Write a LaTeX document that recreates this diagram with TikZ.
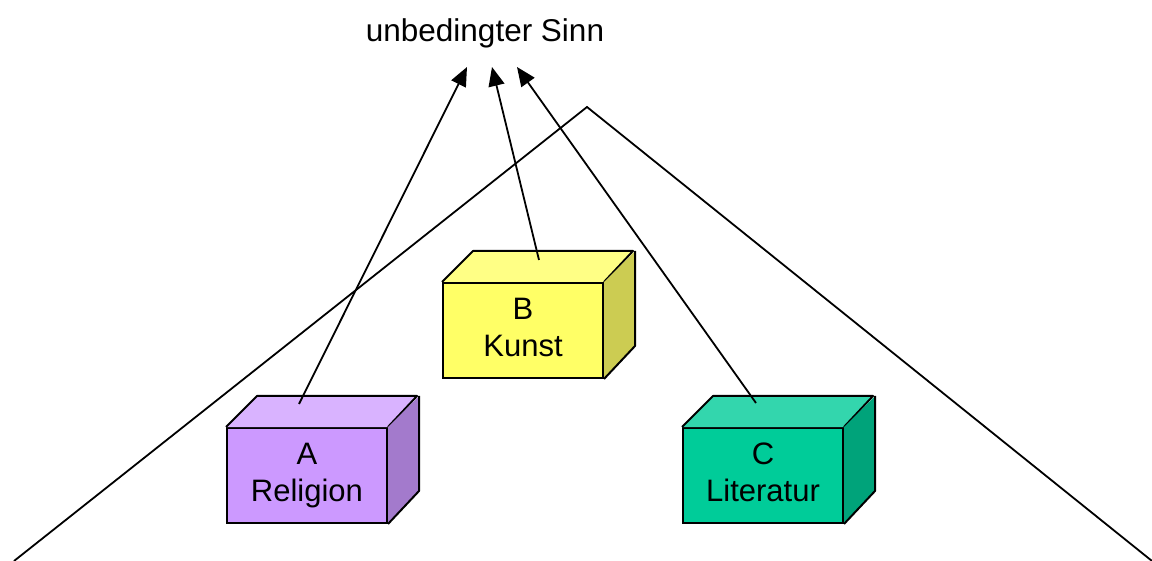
\documentclass[tikz,border=0pt]{standalone}
\usepackage{fontspec}
\setmainfont{Liberation Sans}
\usetikzlibrary{arrows.meta}
\definecolor{aF}{HTML}{CC99FF}\definecolor{aT}{HTML}{D9B3FF}\definecolor{aS}{HTML}{A37ACC}
\definecolor{bF}{HTML}{FFFF66}\definecolor{bT}{HTML}{FFFF85}\definecolor{bS}{HTML}{CCCC52}
\definecolor{cF}{HTML}{00CC99}\definecolor{cT}{HTML}{33D6AD}\definecolor{cS}{HTML}{00A37A}
\tikzset{
  boxfront/.style={draw=black, line width=2pt, minimum width=160pt, minimum height=95pt, inner sep=0pt, align=center, font=\fontsize{31}{37}\selectfont},
  facestyle/.style={draw=black, line width=2pt, line join=round},
  arr/.style={line width=1.8pt, -{Triangle[length=19pt,width=16pt]}},
  edge/.style={line width=1.8pt}
}
\newcommand{\mkbox}[4]{% name, front, top, side
  \fill[#3] (#1.north west) -- ++(31,-31) -- ++(160,0) -- (#1.north east) -- cycle;
  \draw[facestyle] (#1.north west) -- ++(31,-31) -- ++(160,0) -- (#1.north east);
  \fill[#4] (#1.north east) -- ++(31,-31) -- ++(0,95) -- (#1.south east) -- cycle;
  \draw[facestyle] (#1.north east) ++(31,-31) -- ++(0,95) -- (#1.south east);
}
\begin{document}
\begin{tikzpicture}[x=1pt,y=-1pt]
\useasboundingbox (0,0) rectangle (1152,561);
% big triangle
\coordinate (L) at (14,561);
\coordinate (apex) at (587,107);
\coordinate (R) at (1152,561);
\draw[edge, line join=miter] (L) -- (apex) -- (R);
% title
\node[font=\fontsize{31.5}{37}\selectfont, anchor=center] (title) at (485,33) {unbedingter Sinn};
\coordinate (tA) at (467,67);
\coordinate (tB) at (492,67);
\coordinate (tC) at (517,67);
% boxes
\node[boxfront, fill=aF] (A) at (307,475.5) {A\\Religion};
\mkbox{A}{aF}{aT}{aS}
\node[boxfront, fill=bF] (B) at (523,330.5) {B\\Kunst\vphantom{g}};
\mkbox{B}{bF}{bT}{bS}
\node[boxfront, fill=cF] (C) at (763,475.5) {C\\Literatur\vphantom{g}};
\mkbox{C}{cF}{cT}{cS}
% arrow starts
\coordinate (sA) at (299,404);
\coordinate (sB) at (539,260);
\coordinate (sC) at (756,403);
\draw[arr] (sA) -- (tA);
\draw[arr] (sB) -- (tB);
\draw[arr] (sC) -- (tC);
\end{tikzpicture}
\end{document}
